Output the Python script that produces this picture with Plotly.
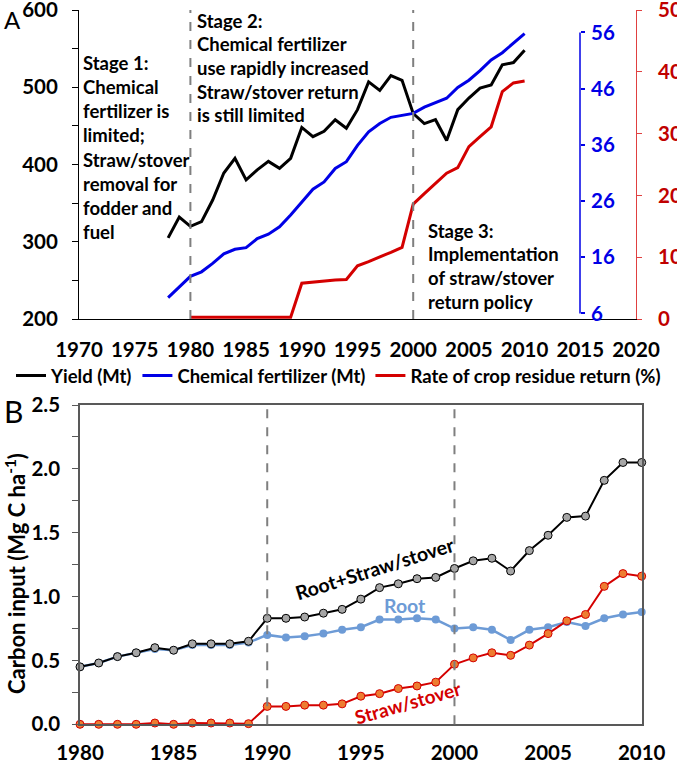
import plotly.graph_objects as go

W, H = 677, 761

# ---------------- data: panel A ----------------
years_a = list(range(1978, 2011))
yield_mt = [305, 332, 320, 326, 354, 389, 408, 380, 393, 404, 395, 408, 448, 436, 443, 458,
            447, 471, 507, 496, 515, 509, 466, 453, 458, 431, 471, 486, 499, 503, 529, 532, 548]
fert_mt = [8.8, 10.7, 12.6, 13.4, 14.9, 16.6, 17.4, 17.7, 19.3, 20.1, 21.4, 23.5, 25.9, 28.1,
           29.4, 31.8, 33.0, 35.9, 38.3, 39.8, 40.9, 41.3, 41.6, 42.7, 43.5, 44.3, 46.2, 47.5,
           49.2, 51.1, 52.4, 54.1, 55.8]
years_rate = list(range(1980, 2011))
rate_pct = [0.3, 0.3, 0.3, 0.3, 0.3, 0.3, 0.3, 0.3, 0.3, 0.3, 5.8, 6.0, 6.2, 6.3, 6.4, 8.6,
            9.3, 10.0, 10.8, 11.6, 18.6, 20.3, 22.0, 23.6, 24.5, 27.9, 29.5, 31.1, 36.8, 38.2, 38.5]
xticks_a = [1970, 1975, 1980, 1985, 1990, 1995, 2000, 2005, 2010, 2015, 2020]
yticks_left = [200, 300, 400, 500, 600]
yticks_fert = [6, 16, 26, 36, 46, 56]
yticks_rate = [0, 10, 20, 30, 40, 50]
stage_lines_a = [1980, 2000]

# ---------------- data: panel B ----------------
years_b = list(range(1980, 2011))
total_c = [0.45, 0.48, 0.53, 0.56, 0.60, 0.58, 0.63, 0.63, 0.63, 0.65, 0.83, 0.83, 0.84, 0.87,
           0.90, 0.98, 1.07, 1.10, 1.14, 1.15, 1.22, 1.28, 1.30, 1.20, 1.36, 1.48, 1.62, 1.63,
           1.91, 2.05, 2.05]
root_c = [0.45, 0.48, 0.53, 0.56, 0.59, 0.58, 0.62, 0.62, 0.62, 0.64, 0.70, 0.68, 0.69, 0.71,
          0.74, 0.76, 0.82, 0.82, 0.83, 0.82, 0.75, 0.76, 0.74, 0.66, 0.74, 0.76, 0.80, 0.77,
          0.83, 0.86, 0.88]
straw_c = [0.0, 0.0, 0.0, 0.0, 0.01, 0.0, 0.01, 0.01, 0.01, 0.005, 0.14, 0.14, 0.15, 0.15,
           0.16, 0.22, 0.24, 0.28, 0.30, 0.33, 0.47, 0.52, 0.56, 0.54, 0.62, 0.71, 0.81, 0.86,
           1.08, 1.18, 1.16]
xticks_b = [1980, 1985, 1990, 1995, 2000, 2005, 2010]
yticks_b = [0.0, 0.5, 1.0, 1.5, 2.0, 2.5]
stage_lines_b = [1990, 2000]

FONT = "Lato"
BLUE = "#0000e6"
RED = "#d40000"
DKRED = "#c00000"
TICK_SIZE = 20.5
TEXT_SIZE = 18.5


def px(x, y):
    return x / W, 1 - y / H


# panel geometry (pixels)
A_L, A_R, A_T, A_B = 79, 636, 10, 319
B_L, B_R, B_T, B_B = 80, 641.7, 405, 724.3
BLUE_AX_X = 580

fig = go.Figure()

# Panel A traces
fig.add_trace(go.Scatter(x=years_a, y=yield_mt, mode="lines", name="Yield (Mt)",
                         line=dict(color="black", width=3), xaxis="x", yaxis="y"))
fig.add_trace(go.Scatter(x=years_a, y=fert_mt, mode="lines", name="Chemical fertilizer (Mt)",
                         line=dict(color=BLUE, width=3), xaxis="x", yaxis="y2"))
fig.add_trace(go.Scatter(x=years_rate, y=rate_pct, mode="lines",
                         name="Rate of crop residue return (%)",
                         line=dict(color=RED, width=3), xaxis="x", yaxis="y3"))

# Panel B traces
fig.add_trace(go.Scatter(x=years_b, y=root_c, mode="lines+markers", showlegend=False,
                         line=dict(color="#6d9bd6", width=2.5),
                         marker=dict(size=8, color="#6d9bd6"),
                         cliponaxis=False, xaxis="x2", yaxis="y5"))
fig.add_trace(go.Scatter(x=years_b, y=straw_c, mode="lines+markers", showlegend=False,
                         line=dict(color=RED, width=2),
                         marker=dict(size=8, color="#ed7d31", line=dict(color=RED, width=1)),
                         cliponaxis=False, xaxis="x2", yaxis="y5"))
fig.add_trace(go.Scatter(x=years_b, y=total_c, mode="lines+markers", showlegend=False,
                         line=dict(color="black", width=2),
                         marker=dict(size=8, color="#a6a6a6", line=dict(color="black", width=1)),
                         cliponaxis=False, xaxis="x2", yaxis="y5"))

tf = dict(family=FONT, size=TICK_SIZE, color="black", weight="bold")
common = dict(showgrid=False, zeroline=False, automargin=False, ticklabeloverflow="allow")

fig.update_layout(
    template="none",
    width=W, height=H,
    margin=dict(l=0, r=0, t=0, b=0, autoexpand=False),
    paper_bgcolor="white", plot_bgcolor="rgba(0,0,0,0)",
    font=dict(family=FONT, size=16, color="black", weight="bold"),
    showlegend=True,
    legend=dict(orientation="h", x=0.5, xanchor="center", y=px(0, 376)[1], yanchor="middle",
                font=dict(family=FONT, size=TEXT_SIZE, color="black", weight="bold"),
                bgcolor="rgba(0,0,0,0)", itemwidth=30, tracegroupgap=0),
    xaxis=dict(domain=[A_L / W, A_R / W], range=[1970, 2020], tickvals=xticks_a,
               showline=True, linecolor="black", linewidth=1,
               ticks="", tickfont=tf, ticklabelstandoff=12, anchor="y", **common),
    yaxis=dict(domain=[px(0, A_B)[1], px(0, A_T)[1]], range=[200, 600], tickvals=yticks_left,
               showline=True, linecolor="black", linewidth=1,
               ticks="outside", ticklen=6, tickcolor="black",
               minor=dict(dtick=50, ticks="outside", ticklen=6, tickcolor="black", showgrid=False),
               tickfont=tf, ticklabelstandoff=10, anchor="x", **common),
    yaxis2=dict(overlaying="y", side="right", anchor="free", position=BLUE_AX_X / W,
                range=[5, 60], tickvals=yticks_fert,
                showline=False, ticks="outside", ticklen=4, tickcolor=BLUE, tickwidth=2,
                tickfont=dict(family=FONT, size=TICK_SIZE, color=BLUE, weight="bold"),
                ticklabelstandoff=2, **common),
    yaxis4=dict(overlaying="y", side="right", anchor="free", position=BLUE_AX_X / W,
                range=[5, 60], tickvals=yticks_fert,
                showline=False, ticks="inside", ticklen=4, tickcolor=BLUE, tickwidth=2,
                showticklabels=False, **common),
    yaxis3=dict(overlaying="y", side="right", anchor="x", range=[0, 50], tickvals=yticks_rate,
                showline=True, linecolor="#e04040", linewidth=1,
                ticks="outside", ticklen=5, tickcolor="#e04040",
                tickfont=dict(family=FONT, size=TICK_SIZE, color=DKRED, weight="bold"),
                ticklabelstandoff=12, **common),
    xaxis2=dict(domain=[B_L / W, B_R / W], range=[1980, 2010], tickvals=xticks_b,
                showline=True, mirror=True,
                linecolor="#595959", linewidth=1.5, ticks="", tickfont=tf,
                ticklabelstandoff=9, anchor="y5", **common),
    yaxis5=dict(domain=[px(0, B_B)[1], px(0, B_T)[1]], range=[0, 2.5], tickvals=yticks_b,
                tickformat=".1f", showline=True, mirror=True,
                linecolor="#595959", linewidth=1.5, ticks="outside", ticklen=6,
                tickcolor="#595959",
                minor=dict(dtick=0.25, ticks="outside", ticklen=6, tickcolor="#595959",
                           showgrid=False),
                tickfont=tf, ticklabelstandoff=8, anchor="x2", **common),
)

shapes = []
for xv in stage_lines_a:
    shapes.append(dict(type="line", xref="x", yref="y domain", x0=xv, x1=xv, y0=0, y1=1,
                       line=dict(color="#7f7f7f", width=2, dash="dash")))
for xv in stage_lines_b:
    shapes.append(dict(type="line", xref="x2", yref="y5 domain", x0=xv, x1=xv, y0=0, y1=1,
                       line=dict(color="#7f7f7f", width=2, dash="dash")))
# blue axis line spanning 6..56 only
shapes.append(dict(type="line", xref="paper", yref="y2", x0=BLUE_AX_X / W, x1=BLUE_AX_X / W,
                   y0=yticks_fert[0], y1=yticks_fert[-1], line=dict(color=BLUE, width=1.5)))
fig.update_layout(shapes=shapes)

ann = []


def add_lines(lines, x, y0, dy, size=TEXT_SIZE, color="black"):
    for i, t in enumerate(lines):
        xp, yp = px(x, y0 + i * dy)
        ann.append(dict(text=t, x=xp, y=yp, xref="paper", yref="paper", xanchor="left",
                        yanchor="middle", showarrow=False,
                        font=dict(family=FONT, size=size, color=color, weight="bold")))


add_lines(["Stage 1:", "Chemical", "fertilizer is", "limited;", "Straw/stover",
           "removal for", "fodder and", "fuel"], 81, 63.3, 24.05)
add_lines(["Stage 2:", "Chemical fertilizer", "use rapidly increased", "Straw/stover return",
           "is still limited"], 195, 20.7, 23.6)
add_lines(["Stage 3:", "Implementation", "of straw/stover", "return policy"], 426, 230.5, 23.8)

# panel letters
for t, (x, y), s in [("A", (12, 19), 24), ("B", (13, 411), 30)]:
    xp, yp = px(x, y)
    ann.append(dict(text=t, x=xp, y=yp, xref="paper", yref="paper", xanchor="center",
                    yanchor="middle", showarrow=False,
                    font=dict(family=FONT, size=s, color="black", weight="normal")))

# panel B y title
xp, yp = px(15, 574)
ann.append(dict(text="Carbon input (Mg C ha<sup>-1</sup>)", x=xp, y=yp, xref="paper",
                yref="paper", textangle=-90, showarrow=False, xanchor="center",
                yanchor="middle", font=dict(family=FONT, size=22, color="black", weight="bold")))

# series labels in panel B
for t, (x, y), ang, col, s in [("Root+Straw/stover", (375, 568), -17.5, "black", 19.5),
                               ("Root", (405, 605), 0, "#6d9bd6", 19.5),
                               ("Straw/stover", (408, 702), -16, RED, 19)]:
    xp, yp = px(x, y)
    ann.append(dict(text=t, x=xp, y=yp, xref="paper", yref="paper", textangle=ang,
                    showarrow=False, xanchor="center", yanchor="middle",
                    font=dict(family=FONT, size=s, color=col, weight="bold")))

fig.update_layout(annotations=ann)

fig.write_html("out.html", config={"displayModeBar": False},
               post_script="document.body.style.margin='0';"
                           "document.body.style.overflow='hidden';")
